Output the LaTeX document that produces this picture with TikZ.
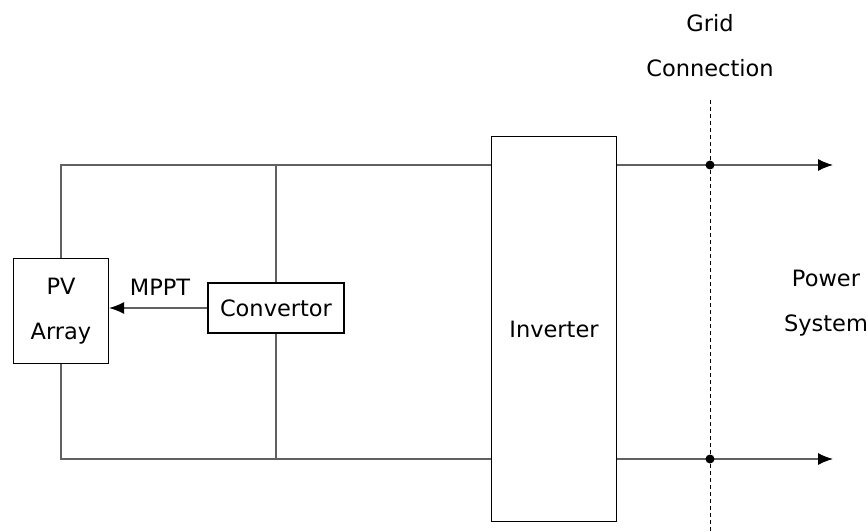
\documentclass[tikz,border=0pt]{standalone}
\usepackage{fontspec}
\setmainfont{DejaVu Sans}
\usetikzlibrary{arrows.meta}
\begin{document}
\begin{tikzpicture}[
       x=1pt, y=-1pt,
       txt/.style={font=\fontsize{22.5}{45}\selectfont, align=center, inner sep=0pt},
       box/.style={rectangle, draw=black, line width=1.2pt, txt},
       wire/.style={draw=black!62, line width=1.3pt},
       arrow/.style={wire, -{Latex[length=15pt, width=12pt, color=black]}},
       grid/.style={black, line width=0.9pt, dash pattern=on 4pt off 3pt},
       dot/.style={circle, fill=black, inner sep=0pt, minimum size=9pt}
   ]
   \useasboundingbox (0,0) rectangle (868,532);
   \node[box, minimum width=95pt, minimum height=105pt] (pv) at (61,311) {PV\\Array};
   \node[box, minimum width=136pt, minimum height=50pt] (conv) at (276,308) {Convertor};
   \node[box, minimum width=125pt, minimum height=385pt] (inv) at (554,329) {Inverter};
   \node[txt] (mppt) at (160,287) {MPPT};
   \node[txt] (gridlbl) at (710,46) {Grid\\Connection};
   \node[txt] (power) at (826,303) {Power\\System};

   % DC bus rails
   \coordinate (tl) at (61,165);
   \coordinate (bl) at (61,459);
   \coordinate (outt) at (833,165);
   \coordinate (outb) at (833,459);
   \draw[wire] (pv.north) -- (tl) -- (inv.west |- tl);
   \draw[wire] (pv.south) -- (bl) -- (inv.west |- bl);
   \draw[wire] (conv.north) -- (conv.north |- tl);
   \draw[wire] (conv.south) -- (conv.south |- bl);
   \draw[arrow] (conv.west) -- (conv.west -| pv.east);

   % AC side and grid boundary
   \draw[arrow] (inv.east |- outt) -- (outt);
   \draw[arrow] (inv.east |- outb) -- (outb);
   \coordinate (gtop) at (710,100);
   \coordinate (gbot) at (710,532);
   \draw[grid] (gtop) -- (gbot);
   \node[dot] at (gtop |- outt) {};
   \node[dot] at (gtop |- outb) {};
   \end{tikzpicture}
\end{document}
